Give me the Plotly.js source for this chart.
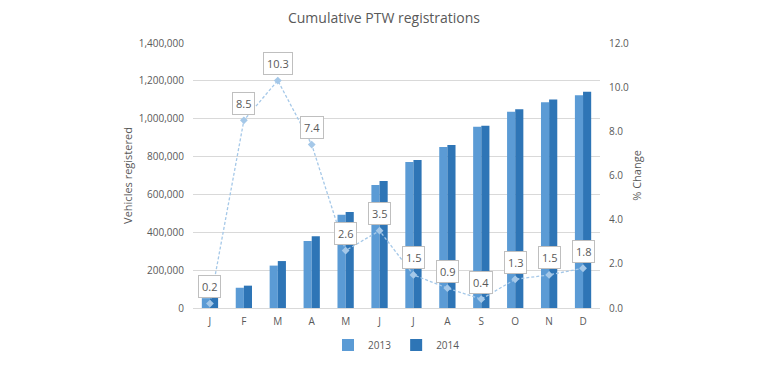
<!DOCTYPE html>
<html><head><meta charset="utf-8">
<script src="https://cdn.plot.ly/plotly-3.0.1.min.js"></script>
<style>html,body{margin:0;padding:0;background:#fff}#chart{width:768px;height:385px}</style>
</head><body><div id="chart"></div>
<script>
const months = ["J","F","M","A","M","J","J","A","S","O","N","D"];
const monthIdx = [0,1,2,3,4,5,6,7,8,9,10,11];
const reg2013 = [52000,107000,224000,354000,493000,650000,771000,850000,957000,1037000,1087000,1124000];
const reg2014 = [53000,118000,248000,379000,507000,671000,782000,861000,963000,1050000,1101000,1143000];
const pctChange = [0.2,8.5,10.3,7.4,2.6,3.5,1.5,0.9,0.4,1.3,1.5,1.8];

const gray = "#595959";
const data = [
  {type:"bar", name:"2013", x:monthIdx, y:reg2013, marker:{color:"#5b9bd5"}, yaxis:"y"},
  {type:"bar", name:"2014", x:monthIdx, y:reg2014, marker:{color:"#2e75b6"}, yaxis:"y"},
  {type:"scatter", mode:"lines+markers", name:"% Change", x:monthIdx, y:pctChange, yaxis:"y2",
   showlegend:false, line:{color:"#a5c8e8", width:1.3, dash:"3px,2px"},
   marker:{symbol:"diamond", size:6, color:"#a5c8e8"}}
];
const annotations = pctChange.map((v,i)=>({
  x:monthIdx[i], y:v, xref:"x", yref:"y2", text:v.toFixed(1), showarrow:false,
  yshift:17, font:{family:"Open Sans, sans-serif", size:11, color:gray},
  bgcolor:"#ffffff", bordercolor:"#bfbfbf", borderwidth:1, borderpad:3
}));
const layout = {
  width:768, height:385,
  margin:{l:193, r:168, t:43, b:77},
  paper_bgcolor:"#fff", plot_bgcolor:"#fff",
  title:{text:"Cumulative PTW registrations", x:0.5, xanchor:"center", y:0.952, yanchor:"middle",
    font:{family:"Open Sans, sans-serif", size:14, color:gray}},
  barmode:"group", bargap:0.52, bargroupgap:0,
  font:{family:"Open Sans, sans-serif", color:gray, size:10},
  xaxis:{tickmode:"array", tickvals:monthIdx, ticktext:months, range:[-0.5,11.5],
    showgrid:false, zeroline:false, showline:false, ticks:"", ticklabelstandoff:6, tickfont:{size:10,color:gray}},
  yaxis:{range:[0,1400000], dtick:200000, tickformat:",d", gridcolor:"#d9d9d9", gridwidth:1,
    zeroline:true, zerolinecolor:"#d9d9d9", showline:false, ticks:"", ticklabelstandoff:8,
    title:{text:"Vehicles registered", standoff:3, font:{size:11,color:gray}}, tickfont:{size:10,color:gray}},
  yaxis2:{range:[0,12], dtick:2, tickformat:".1f", overlaying:"y", side:"right", showgrid:false,
    zeroline:false, showline:false, ticks:"", ticklabelstandoff:8,
    title:{text:"% Change", standoff:5, font:{size:11,color:gray}}, tickfont:{size:10,color:gray}},
  legend:{orientation:"h", x:0.5, xanchor:"center", y:-0.14, yanchor:"middle",
    font:{size:10,color:gray}, itemwidth:30, traceorder:"normal"},
  annotations:annotations
};
Plotly.newPlot("chart", data, layout, {displayModeBar:false, staticPlot:true});
</script></body></html>
